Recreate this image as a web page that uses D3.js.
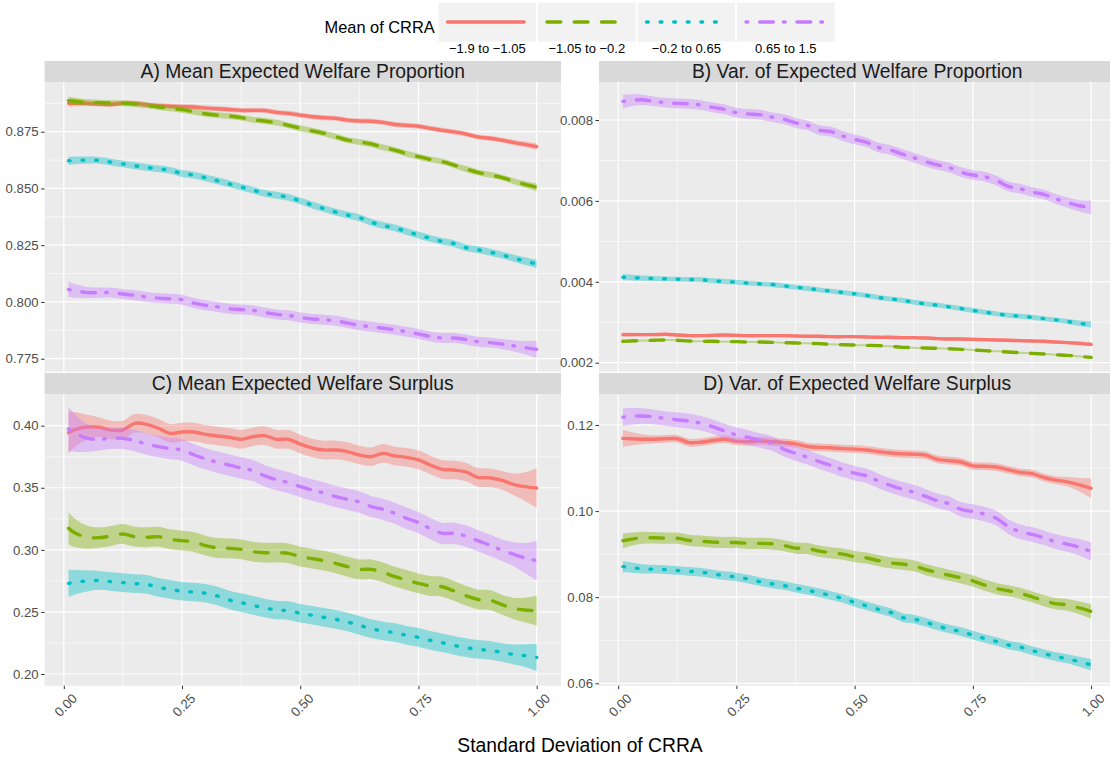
<!DOCTYPE html>
<html>
<head>
<meta charset="utf-8">
<script src="https://cdn.jsdelivr.net/npm/d3@7"></script>
<style>
  body { margin: 0; background: #fff; }
  svg { display: block; }
  text { font-family: "Liberation Sans", Arial, Helvetica, sans-serif; }
</style>
</head>
<body>
<svg id="chart" width="1110" height="758"></svg>
<script>
// Standard deviation of CRRA at which each curve is evaluated
const sdGrid = [0.01, 0.025, 0.05, 0.075, 0.1, 0.125, 0.15, 0.175, 0.2, 0.225, 0.25, 0.275, 0.3, 0.325,
  0.35, 0.375, 0.4, 0.425, 0.45, 0.475, 0.5, 0.525, 0.55, 0.575, 0.6, 0.625, 0.65, 0.675, 0.7, 0.725,
  0.75, 0.775, 0.8, 0.825, 0.85, 0.875, 0.9, 0.925, 0.95, 0.975, 1.0];

// Mean-of-CRRA groups
const groups = ["\u22121.9 to \u22121.05", "\u22121.05 to \u22120.2", "\u22120.2 to 0.65", "0.65 to 1.5"];
const groupColors = ["#F8766D", "#7CAE00", "#00BFC4", "#C77CFF"];
const groupDash = ["none", "13.6,13.6", "1.6,12", "1.6,12,13.6,10.2"];

const panelTitles = [
  "A) Mean Expected Welfare Proportion",
  "B) Var. of Expected Welfare Proportion",
  "C) Mean Expected Welfare Surplus",
  "D) Var. of Expected Welfare Surplus"
];

// A) mean expected welfare proportion
const redA = [0.8875,0.8875,0.8875,0.8872,0.8870,0.8876,0.8875,0.8869,0.8865,0.8862,0.8860,0.8859,0.8854,0.8851,0.8848,0.8844,0.8844,0.8843,0.8835,0.8831,0.8823,0.8816,0.8812,0.8809,0.8801,0.8797,0.8796,0.8791,0.8782,0.8778,0.8774,0.8765,0.8756,0.8749,0.8740,0.8727,0.8721,0.8713,0.8703,0.8694,0.8684];
const greenA = [0.8887,0.8884,0.8879,0.8878,0.8876,0.8875,0.8872,0.8866,0.8859,0.8853,0.8847,0.8838,0.8829,0.8823,0.8819,0.8812,0.8803,0.8797,0.8790,0.8778,0.8765,0.8754,0.8743,0.8728,0.8713,0.8705,0.8696,0.8681,0.8669,0.8653,0.8640,0.8628,0.8618,0.8603,0.8586,0.8571,0.8561,0.8549,0.8533,0.8518,0.8505];
const cyanA = [0.8622,0.8624,0.8625,0.8624,0.8616,0.8608,0.8600,0.8593,0.8586,0.8580,0.8566,0.8559,0.8547,0.8534,0.8520,0.8506,0.8493,0.8478,0.8470,0.8461,0.8445,0.8427,0.8411,0.8396,0.8383,0.8371,0.8351,0.8337,0.8326,0.8310,0.8295,0.8280,0.8267,0.8257,0.8239,0.8230,0.8220,0.8207,0.8194,0.8180,0.8167];
const purpleA = [0.8055,0.8048,0.8041,0.8041,0.8041,0.8035,0.8029,0.8022,0.8017,0.8014,0.8010,0.7995,0.7985,0.7978,0.7970,0.7967,0.7963,0.7954,0.7945,0.7941,0.7931,0.7925,0.7922,0.7917,0.7907,0.7897,0.7891,0.7884,0.7878,0.7869,0.7859,0.7848,0.7841,0.7841,0.7835,0.7825,0.7821,0.7815,0.7807,0.7799,0.7791];

// B) variance of expected welfare proportion
const redB = [0.002694,0.002694,0.002694,0.002694,0.002702,0.002686,0.002669,0.002669,0.002677,0.002686,0.002677,0.002669,0.002669,0.002669,0.002669,0.002661,0.002653,0.002653,0.002644,0.002644,0.002644,0.002636,0.002628,0.002628,0.002620,0.002620,0.002611,0.002595,0.002587,0.002587,0.002578,0.002570,0.002562,0.002554,0.002545,0.002537,0.002529,0.002512,0.002496,0.002479,0.002454];
const greenB = [0.002529,0.002537,0.002546,0.002554,0.002562,0.002554,0.002537,0.002529,0.002529,0.002521,0.002521,0.002512,0.002512,0.002504,0.002496,0.002488,0.002479,0.002471,0.002455,0.002446,0.002438,0.002430,0.002422,0.002405,0.002380,0.002372,0.002364,0.002355,0.002347,0.002331,0.002314,0.002298,0.002281,0.002265,0.002248,0.002231,0.002215,0.002198,0.002182,0.002157,0.002132];
const cyanB = [0.004116,0.004107,0.004091,0.004083,0.004074,0.004066,0.004058,0.004050,0.004025,0.004008,0.003992,0.003967,0.003950,0.003934,0.003901,0.003868,0.003835,0.003802,0.003769,0.003736,0.003702,0.003661,0.003612,0.003579,0.003545,0.003496,0.003455,0.003422,0.003380,0.003339,0.003290,0.003248,0.003207,0.003174,0.003149,0.003124,0.003091,0.003058,0.003017,0.002975,0.002942];
const purpleB = [0.00846,0.00848,0.00850,0.00846,0.00843,0.00841,0.00840,0.00837,0.00831,0.00826,0.00818,0.00815,0.00813,0.00807,0.00802,0.00793,0.00787,0.00775,0.00771,0.00760,0.00752,0.00745,0.00732,0.00726,0.00716,0.00707,0.00697,0.00689,0.00682,0.00671,0.00664,0.00660,0.00650,0.00636,0.00630,0.00622,0.00616,0.00605,0.00596,0.00588,0.00584];

// C) mean expected welfare surplus
const redC = [0.3944,0.3971,0.3989,0.3987,0.3965,0.3965,0.4019,0.4011,0.3979,0.3938,0.3949,0.3949,0.3930,0.3917,0.3906,0.3890,0.3911,0.3920,0.3890,0.3890,0.3852,0.3820,0.3804,0.3804,0.3791,0.3764,0.3750,0.3777,0.3756,0.3745,0.3724,0.3683,0.3648,0.3643,0.3627,0.3584,0.3581,0.3562,0.3528,0.3509,0.3498];
const greenC = [0.3173,0.3133,0.3101,0.3098,0.3111,0.3128,0.3106,0.3101,0.3106,0.3085,0.3074,0.3063,0.3034,0.3015,0.3012,0.3004,0.2985,0.2977,0.2977,0.2972,0.2945,0.2929,0.2913,0.2891,0.2864,0.2843,0.2843,0.2819,0.2784,0.2757,0.2730,0.2709,0.2703,0.2669,0.2631,0.2601,0.2596,0.2561,0.2529,0.2515,0.2510];
const cyanC = [0.2730,0.2741,0.2749,0.2754,0.2744,0.2736,0.2728,0.2722,0.2698,0.2682,0.2666,0.2660,0.2650,0.2628,0.2596,0.2575,0.2553,0.2532,0.2515,0.2510,0.2489,0.2473,0.2456,0.2440,0.2419,0.2392,0.2365,0.2346,0.2333,0.2311,0.2295,0.2271,0.2252,0.2231,0.2212,0.2199,0.2191,0.2175,0.2158,0.2148,0.2134];
const purpleC = [0.3973,0.3938,0.3898,0.3890,0.3898,0.3898,0.3879,0.3852,0.3831,0.3815,0.3804,0.3766,0.3732,0.3705,0.3683,0.3659,0.3638,0.3595,0.3565,0.3541,0.3509,0.3482,0.3458,0.3428,0.3407,0.3385,0.3348,0.3326,0.3294,0.3254,0.3219,0.3171,0.3133,0.3133,0.3111,0.3074,0.3039,0.2999,0.2966,0.2934,0.2913];

// D) variance of expected welfare surplus
const redD = [0.1169,0.1168,0.1167,0.1167,0.1168,0.1168,0.1159,0.1160,0.1164,0.1167,0.1162,0.1161,0.1163,0.1161,0.1159,0.1156,0.1150,0.1148,0.1147,0.1145,0.1144,0.1142,0.1138,0.1135,0.1133,0.1132,0.1130,0.1120,0.1117,0.1114,0.1105,0.1104,0.1102,0.1096,0.1090,0.1087,0.1078,0.1072,0.1068,0.1061,0.1053];
const greenD = [0.0931,0.0934,0.0938,0.0938,0.0937,0.0937,0.0932,0.0930,0.0928,0.0927,0.0927,0.0925,0.0925,0.0924,0.0920,0.0914,0.0913,0.0907,0.0903,0.0900,0.0894,0.0891,0.0885,0.0880,0.0877,0.0873,0.0864,0.0857,0.0851,0.0845,0.0838,0.0828,0.0820,0.0815,0.0809,0.0801,0.0792,0.0785,0.0782,0.0775,0.0767];
const cyanD = [0.0871,0.0869,0.0866,0.0865,0.0864,0.0862,0.0860,0.0858,0.0854,0.0850,0.0847,0.0842,0.0836,0.0831,0.0827,0.0821,0.0816,0.0810,0.0804,0.0797,0.0788,0.0780,0.0772,0.0765,0.0753,0.0749,0.0742,0.0733,0.0726,0.0720,0.0712,0.0704,0.0697,0.0689,0.0684,0.0676,0.0669,0.0662,0.0657,0.0650,0.0643];
const purpleD = [0.1218,0.1220,0.1221,0.1219,0.1215,0.1212,0.1209,0.1204,0.1196,0.1186,0.1177,0.1171,0.1164,0.1157,0.1144,0.1134,0.1125,0.1115,0.1106,0.1096,0.1088,0.1082,0.1070,0.1060,0.1051,0.1044,0.1034,0.1024,0.1017,0.1004,0.0999,0.0993,0.0983,0.0964,0.0952,0.0946,0.0938,0.0929,0.0923,0.0916,0.0906];

// Confidence band half-widths per group: [at low end, interior, at high end]
const bandA = [[0.0016,0.0011,0.0015],[0.0017,0.0013,0.0016],[0.0018,0.0015,0.0018],[0.0034,0.0022,0.0037]];
const bandB = [[0.00005,0.00004,0.00005],[0.00003,0.000025,0.00003],[0.00008,0.00006,0.00008],[0.00017,0.00012,0.00017]];
const bandC = [[0.017,0.0075,0.016],[0.013,0.008,0.012],[0.011,0.0075,0.011],[0.018,0.0086,0.016]];
const bandD = [[0.002,0.0009,0.0023],[0.0017,0.0013,0.0017],[0.0013,0.001,0.0013],[0.0021,0.0017,0.0021]];

// Axis breaks
const xTicks = [0, 0.25, 0.5, 0.75, 1];
const xMinor = [0.125, 0.375, 0.625, 0.875];
const yTicksA = [0.775, 0.8, 0.825, 0.85, 0.875];
const yMinorA = [0.7875, 0.8125, 0.8375, 0.8625, 0.8875];
const yTicksB = [0.002, 0.004, 0.006, 0.008];
const yMinorB = [0.003, 0.005, 0.007];
const yTicksC = [0.2, 0.25, 0.3, 0.35, 0.4];
const yMinorC = [0.225, 0.275, 0.325, 0.375];
const yTicksD = [0.06, 0.08, 0.1, 0.12];
const yMinorD = [0.07, 0.09, 0.11];

// ---- layout ----
const colLeft = [44.6, 599], colRight = [561, 1115.4];
const stripTop = [61, 373], panelTop = [82, 394.5], panelBottom = [371.7, 685.7];
const xLimits = [-0.0406, 1.0514];

const panels = [
  { title: panelTitles[0], series: [redA, greenA, cyanA, purpleA], bands: bandA, yLim: [0.76927, 0.8969], ticks: yTicksA, minor: yMinorA, fmt: d3.format(".3f"), col: 0, row: 0 },
  { title: panelTitles[1], series: [redB, greenB, cyanB, purpleB], bands: bandB, yLim: [0.001778, 0.008939], ticks: yTicksB, minor: yMinorB, fmt: d3.format(".3f"), col: 1, row: 0 },
  { title: panelTitles[2], series: [redC, greenC, cyanC, purpleC], bands: bandC, yLim: [0.19058, 0.4251], ticks: yTicksC, minor: yMinorC, fmt: d3.format(".2f"), col: 0, row: 1 },
  { title: panelTitles[3], series: [redD, greenD, cyanD, purpleD], bands: bandD, yLim: [0.05944, 0.12708], ticks: yTicksD, minor: yMinorD, fmt: d3.format(".2f"), col: 1, row: 1 }
];

const svg = d3.select("#chart");
svg.append("rect").attr("width", 1110).attr("height", 758).attr("fill", "#fff");

const x0 = sdGrid[0], x1 = sdGrid[sdGrid.length - 1];
function halfWidth(b, sd) {
  const tl = Math.max(0, 1 - (sd - x0) / 0.08);
  const tr = Math.max(0, 1 - (x1 - sd) / 0.08);
  return b[1] + (b[0] - b[1]) * tl * tl + (b[2] - b[1]) * tr * tr;
}

panels.forEach((p, pi) => {
  const left = colLeft[p.col], right = colRight[p.col];
  const top = panelTop[p.row], bottom = panelBottom[p.row];
  const x = d3.scaleLinear().domain(xLimits).range([left, right]);
  const y = d3.scaleLinear().domain(p.yLim).range([bottom, top]);

  const g = svg.append("g");
  const clipId = "clip" + pi;
  g.append("clipPath").attr("id", clipId)
    .append("rect").attr("x", left).attr("y", top).attr("width", right - left).attr("height", bottom - top);

  // strip
  g.append("rect").attr("x", left).attr("y", stripTop[p.row]).attr("width", right - left)
    .attr("height", top - stripTop[p.row]).attr("fill", "#D9D9D9");
  g.append("text").attr("x", (left + right) / 2).attr("y", (stripTop[p.row] + top) / 2)
    .attr("text-anchor", "middle").attr("dominant-baseline", "central")
    .attr("font-size", 19.3).attr("fill", "#1A1A1A").text(p.title);

  // panel background and grid
  g.append("rect").attr("x", left).attr("y", top).attr("width", right - left)
    .attr("height", bottom - top).attr("fill", "#EBEBEB");
  const grid = g.append("g").attr("stroke", "#fff");
  grid.selectAll(".ym").data(p.minor).join("line")
    .attr("x1", left).attr("x2", right).attr("y1", d => y(d)).attr("y2", d => y(d)).attr("stroke-width", 0.6);
  grid.selectAll(".xm").data(xMinor).join("line")
    .attr("y1", top).attr("y2", bottom).attr("x1", d => x(d)).attr("x2", d => x(d)).attr("stroke-width", 0.6);
  grid.selectAll(".yM").data(p.ticks).join("line")
    .attr("x1", left).attr("x2", right).attr("y1", d => y(d)).attr("y2", d => y(d)).attr("stroke-width", 1.2);
  grid.selectAll(".xM").data(xTicks).join("line")
    .attr("y1", top).attr("y2", bottom).attr("x1", d => x(d)).attr("x2", d => x(d)).attr("stroke-width", 1.2);

  // ribbons and lines, one group at a time
  const plot = g.append("g").attr("clip-path", `url(#${clipId})`);
  p.series.forEach((vals, si) => {
    const pts = sdGrid.map((sd, i) => ({ sd, v: vals[i], h: halfWidth(p.bands[si], sd) }));
    const area = d3.area().curve(d3.curveCatmullRom)
      .x(d => x(d.sd)).y0(d => y(d.v - d.h)).y1(d => y(d.v + d.h));
    const line = d3.line().curve(d3.curveCatmullRom).x(d => x(d.sd)).y(d => y(d.v));
    plot.append("path").attr("d", area(pts)).attr("fill", groupColors[si]).attr("fill-opacity", 0.4);
    plot.append("path").attr("d", line(pts)).attr("fill", "none")
      .attr("stroke", groupColors[si]).attr("stroke-width", 3.4)
      .attr("stroke-linecap", "round").attr("stroke-linejoin", "round")
      .attr("stroke-dasharray", groupDash[si]);
  });

  // y axis
  const yAxis = d3.axisLeft(y).tickValues(p.ticks).tickFormat(p.fmt).tickSize(3.5).tickPadding(2.5);
  const ya = g.append("g").attr("transform", `translate(${left},0)`).call(yAxis);
  ya.select(".domain").remove();
  ya.selectAll(".tick line").attr("stroke", "#333");
  ya.selectAll(".tick text").attr("font-size", 13.2).attr("fill", "#4D4D4D")
    .attr("font-family", "\"Liberation Sans\", Arial, sans-serif");

  // x axis on the bottom row only
  if (p.row === 1) {
    const xAxis = d3.axisBottom(x).tickValues(xTicks).tickFormat(d3.format(".2f")).tickSize(3.5);
    const xa = g.append("g").attr("transform", `translate(0,${bottom})`).call(xAxis);
    xa.select(".domain").remove();
    xa.selectAll(".tick line").attr("stroke", "#333");
    xa.selectAll(".tick text")
      .attr("font-size", 13.2).attr("fill", "#4D4D4D")
      .attr("font-family", "\"Liberation Sans\", Arial, sans-serif")
      .attr("text-anchor", "end").attr("y", 0).attr("dy", "0.72em")
      .attr("transform", "translate(7,7) rotate(-45)");
  }
});

// x axis title
svg.append("text").attr("x", (colLeft[0] + colRight[1]) / 2).attr("y", 752)
  .attr("text-anchor", "middle").attr("font-size", 19.3).attr("fill", "#000")
  .text("Standard Deviation of CRRA");

// legend
const legend = svg.append("g");
legend.append("text").attr("x", 324.5).attr("y", 33).attr("font-size", 16.4).attr("fill", "#000").text("Mean of CRRA");
const keyX = d3.scaleBand().domain(groups).range([438.6, 834.6]).paddingInner(0.02);
groups.forEach((gname, i) => {
  const kx = keyX(gname), kw = keyX.bandwidth();
  legend.append("rect").attr("x", kx).attr("y", 2.7).attr("width", kw).attr("height", 39).attr("fill", "#F2F2F2");
  legend.append("line").attr("x1", kx + 9).attr("x2", kx + kw - 12).attr("y1", 22).attr("y2", 22)
    .attr("stroke", groupColors[i]).attr("stroke-width", 3.6)
    .attr("stroke-linecap", "round").attr("stroke-dasharray", groupDash[i]);
  legend.append("text").attr("x", kx + kw / 2).attr("y", 52.5).attr("text-anchor", "middle")
    .attr("font-size", 13).attr("fill", "#000").text(gname);
});
</script>
</body>
</html>
